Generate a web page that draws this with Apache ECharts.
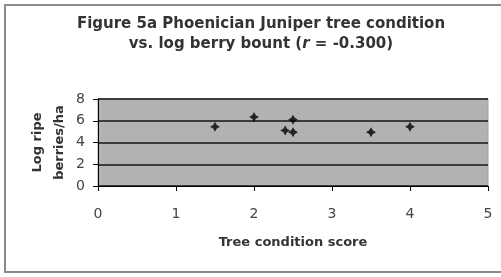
<!DOCTYPE html>
<html><head><meta charset="utf-8">
<script src="https://cdn.jsdelivr.net/npm/echarts@6/dist/echarts.min.js"></script>
<style>html,body{margin:0;padding:0;background:#fff}#c{width:501px;height:277px}</style>
</head><body><div id="c"></div>
<script>
var treeCondition = [1.5, 2.0, 2.4, 2.5, 2.5, 3.5, 4.0];
var logBerries    = [5.45, 6.35, 5.1, 6.1, 4.95, 4.95, 5.45];
var xTicks = [0, 1, 2, 3, 4, 5];
var yTicks = [0, 2, 4, 6, 8];

var points = treeCondition.map(function (x, i) { return [x, logBerries[i]]; });
var chart = echarts.init(document.getElementById('c'), null, {renderer: 'canvas'});
var F = '"DejaVu Sans", sans-serif';
chart.setOption({
  animation: false,
  backgroundColor: '#fff',
  graphic: [{
    type: 'rect', shape: {x: 5, y: 5, width: 500, height: 267},
    style: {fill: 'none', stroke: '#8a8a8a', lineWidth: 2}, z: -1
  }],
  title: {
    text: '{t|Figure 5a Phoenician Juniper tree condition}\n{t|vs. log berry bount (}{i|r}{t| = -0.300)}',
    left: 256, top: 9, textAlign: 'center',
    textStyle: {
      lineHeight: 20,
      rich: {
        t: {fontFamily: F, fontSize: 15, fontWeight: 'bold', color: '#333', lineHeight: 20},
        i: {fontFamily: F, fontSize: 15, fontWeight: 'bold', fontStyle: 'italic', color: '#333', lineHeight: 20}
      }
    }
  },
  grid: {left: 98, right: 13, top: 99, bottom: 91, show: true,
         backgroundColor: '#b2b2b2', borderColor: '#a0a0a0', borderWidth: 1},
  xAxis: {
    type: 'value', min: 0, max: 5, interval: 1,
    name: 'Tree condition score', nameLocation: 'middle', nameGap: 50,
    nameTextStyle: {fontFamily: F, fontSize: 13, fontWeight: 'bold', color: '#333'},
    axisLine: {show: true, onZero: false, lineStyle: {color: '#000', width: 1}},
    axisTick: {show: true, inside: false, length: 5, lineStyle: {color: '#000'}},
    axisLabel: {fontFamily: F, fontSize: 14, color: '#444', margin: 21,
                formatter: function (v) { return xTicks.indexOf(v) >= 0 ? String(v) : ''; }},
    splitLine: {show: false}
  },
  yAxis: {
    type: 'value', min: 0, max: 8, interval: 2,
    name: 'Log ripe\nberries/ha', nameLocation: 'middle', nameGap: 27, nameRotate: 90,
    nameMoveOverlap: false,
    nameTextStyle: {fontFamily: F, fontSize: 13, fontWeight: 'bold', color: '#333', lineHeight: 22},
    axisLine: {show: true, lineStyle: {color: '#000', width: 1}},
    axisTick: {show: true, inside: false, length: 5, lineStyle: {color: '#000'}},
    axisLabel: {fontFamily: F, fontSize: 14, color: '#444', margin: 13,
                formatter: function (v) { return yTicks.indexOf(v) >= 0 ? String(v) : ''; }},
    splitLine: {show: true, lineStyle: {color: '#3c3c3c', width: 2}}
  },
  series: [{
    type: 'scatter',
    data: points,
    symbol: 'path://M0,-5 L1.8,-1.8 L5,0 L1.8,1.8 L0,5 L-1.8,1.8 L-5,0 L-1.8,-1.8Z',
    symbolSize: 10,
    itemStyle: {color: '#000'}
  }]
});
</script></body></html>
